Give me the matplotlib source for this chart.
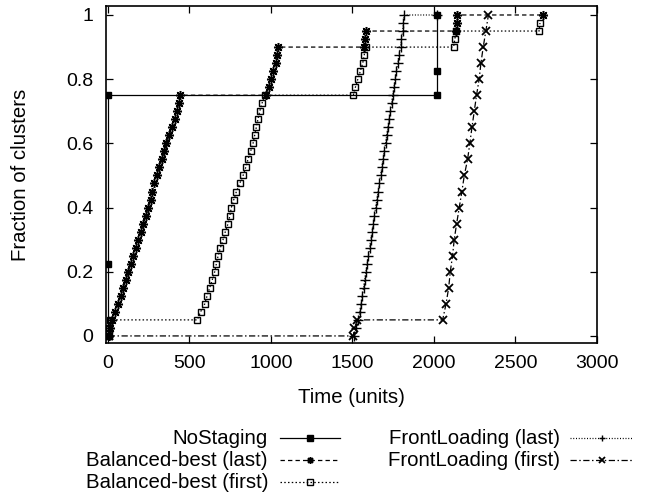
import matplotlib
matplotlib.use("Agg")
import matplotlib.pyplot as plt
from matplotlib.lines import Line2D

plt.rcParams['font.family'] = ['Liberation Sans', 'DejaVu Sans']

# ---------------- data ----------------
ns_time = [0, 0, 0, 2020, 2020, 2020]
ns_frac = [0.0, 0.225, 0.75, 0.75, 0.825, 1.0]

bbl_time = [5, 12, 22, 45, 63, 78, 93, 110, 124, 140, 155, 172, 186, 203, 218, 233,
            247, 262, 272, 285, 298, 315, 330, 345, 359, 376, 392, 410, 424, 437, 441,
            968, 985, 1000, 1015, 1030, 1040, 1045,
            1568, 1575, 1585, 2138, 2140, 2142, 2669]
bbl_frac = [0.0, 0.025, 0.05, 0.075, 0.1, 0.125, 0.15, 0.175, 0.2, 0.225, 0.25, 0.275,
            0.3, 0.325, 0.35, 0.375, 0.4, 0.425, 0.45, 0.475, 0.5, 0.525, 0.55, 0.575,
            0.6, 0.625, 0.65, 0.675, 0.7, 0.725, 0.75,
            0.75, 0.775, 0.8, 0.825, 0.85, 0.875, 0.9,
            0.9, 0.925, 0.95, 0.95, 0.975, 1.0, 1.0]

bbf_time = [5, 8, 12, 548, 568, 594, 608, 624, 640, 655, 665, 676, 690, 706, 720, 737,
            748, 757, 772, 788, 808, 829, 845, 859, 875, 890, 900, 910, 920, 931, 945, 961,
            1505, 1518, 1533, 1548, 1563, 1572, 1580, 2120, 2128, 2135, 2645, 2650]
bbf_frac = [0.0, 0.025, 0.05, 0.05, 0.075, 0.1, 0.125, 0.15, 0.175, 0.2, 0.225, 0.25,
            0.275, 0.3, 0.325, 0.35, 0.375, 0.4, 0.425, 0.45, 0.475, 0.5, 0.525, 0.55,
            0.575, 0.6, 0.625, 0.65, 0.675, 0.7, 0.725, 0.75,
            0.75, 0.775, 0.8, 0.825, 0.85, 0.875, 0.9, 0.9, 0.925, 0.95, 0.95, 0.975]

fll_time = [1512, 1522, 1535, 1545, 1553, 1560, 1568, 1575, 1583, 1590,
            1598, 1605, 1612, 1620, 1628, 1635, 1642, 1650, 1658, 1665,
            1672, 1680, 1688, 1695, 1703, 1710, 1718, 1725, 1733, 1740,
            1747, 1755, 1762, 1770, 1778, 1785, 1795, 1800, 1808, 1812, 1818, 2020]
fll_frac = [0.0, 0.025, 0.05, 0.075, 0.1, 0.125, 0.15, 0.175, 0.2, 0.225,
            0.25, 0.275, 0.3, 0.325, 0.35, 0.375, 0.4, 0.425, 0.45, 0.475,
            0.5, 0.525, 0.55, 0.575, 0.6, 0.625, 0.65, 0.675, 0.7, 0.725,
            0.75, 0.775, 0.8, 0.825, 0.85, 0.875, 0.9, 0.925, 0.95, 0.975, 1.0, 1.0]

flf_time = [5, 1505, 1512, 1530, 2053, 2074, 2090, 2100, 2114, 2124, 2139, 2155, 2171,
            2186, 2206, 2220, 2233, 2247, 2261, 2277, 2288, 2302, 2318, 2334]
flf_frac = [0.0, 0.0, 0.025, 0.05, 0.05, 0.1, 0.15, 0.2, 0.25, 0.3, 0.35, 0.4, 0.45,
            0.5, 0.55, 0.6, 0.65, 0.7, 0.75, 0.8, 0.85, 0.9, 0.95, 1.0]

labels = ["NoStaging", "Balanced-best (last)", "Balanced-best (first)",
          "FrontLoading (last)", "FrontLoading (first)"]
x_ticks = [0, 500, 1000, 1500, 2000, 2500, 3000]
y_ticks = [0, 0.2, 0.4, 0.6, 0.8, 1.0]
y_tick_labels = ["0", "0.2", "0.4", "0.6", "0.8", "1"]

# ---------------- styles ----------------
ASTER = (8, 2, 0)
styles = [
    dict(ls='-', marker='s', ms=5, mfc='black', mec='black', mew=1.0),
    dict(ls=(0, (3.5, 2.5)), marker=ASTER, ms=6.5, mfc='black', mec='black', mew=1.1),
    dict(ls=(0, (1.2, 1.8)), marker='s', ms=5, mfc='none', mec='black', mew=1.0),
    dict(ls=(0, (0.8, 1.4)), marker='+', ms=6.5, mfc='black', mec='black', mew=1.0),
    dict(ls=(0, (5, 2, 1.2, 2)), marker='x', ms=5.5, mfc='black', mec='black', mew=1.3),
]
series = [(ns_time, ns_frac), (bbl_time, bbl_frac), (bbf_time, bbf_frac),
          (fll_time, fll_frac), (flf_time, flf_frac)]

W, H = 647, 494
fig = plt.figure(figsize=(W / 100, H / 100), dpi=100)
ax = fig.add_axes([106 / W, 1 - 343 / H, (597 - 106) / W, (343 - 6) / H])

for (t, f), st in zip(series, styles):
    ax.plot(t, f, color='black', lw=0.9, **st)

ax.set_xlim(-12, 3000)
ax.set_ylim(-0.022, 1.028)
ax.set_xticks(x_ticks)
ax.set_xticklabels([str(v) for v in x_ticks])
ax.set_yticks(y_ticks)
ax.set_yticklabels(y_tick_labels)
ax.tick_params(direction='in', length=5, width=0.9, top=True, right=True,
               labelsize=14, pad=9, colors='black')
for s in ax.spines.values():
    s.set_linewidth(1.2)
ax.set_xlabel("Time (units)", fontsize=14.7, labelpad=11)
ax.set_ylabel("Fraction of clusters", fontsize=14.7, labelpad=26)

# ---------------- legend (gnuplot style, drawn manually) ----------------
def fx(px):
    return px / W

def fy(py):
    return 1 - py / H

entries = [
    (0, 268, 280, 340, 438),
    (1, 268, 280, 340, 460),
    (2, 268, 280, 340, 482),
    (3, 560, 570, 633, 438),
    (4, 560, 570, 633, 460),
]
for idx, tx, x1, x2, yy in entries:
    st = dict(styles[idx])
    fig.text(fx(tx), fy(yy), labels[idx], ha='right', va='center', fontsize=14.7)
    ln = Line2D([fx(x1), fx(x2)], [fy(yy), fy(yy)], transform=fig.transFigure,
                color='black', lw=0.9, ls=st['ls'])
    fig.add_artist(ln)
    mk = Line2D([fx((x1 + x2) / 2)], [fy(yy)], transform=fig.transFigure,
                color='black', ls='none', marker=st['marker'], ms=st['ms'] * 0.75,
                mfc=st['mfc'], mec=st['mec'], mew=st.get('mew', 1.0))
    fig.add_artist(mk)

fig.savefig("out.png", dpi=100)
